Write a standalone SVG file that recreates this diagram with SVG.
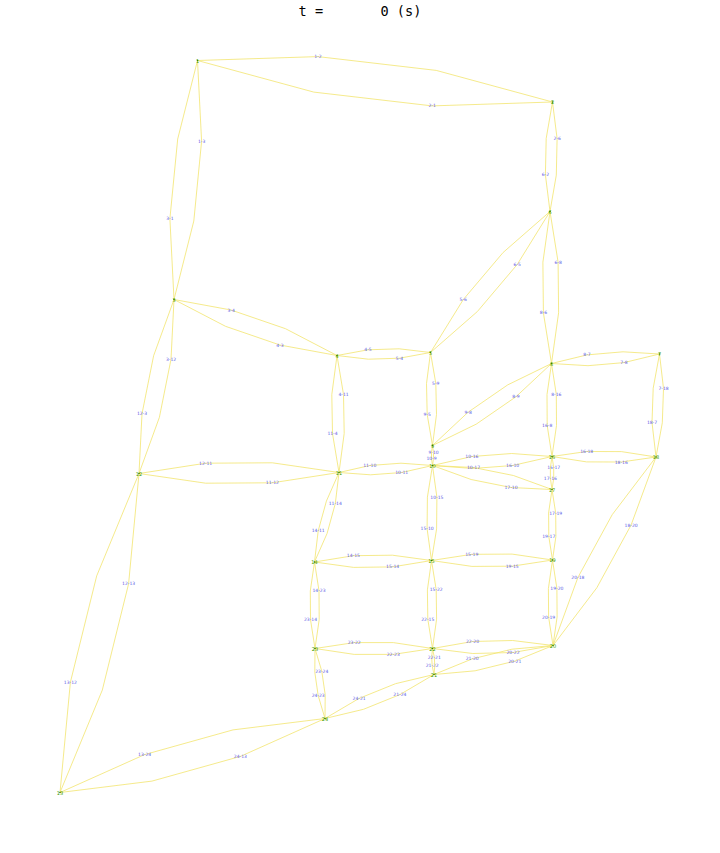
<svg xmlns="http://www.w3.org/2000/svg" width="720" height="853" viewBox="0 0 720 853">
<style>
.lk{fill:none;stroke:#f2e46e;stroke-width:0.8;stroke-linejoin:round}
.ll{font-family:"DejaVu Sans","Liberation Sans",sans-serif;font-size:4.5px;fill:#5a5ae6;text-anchor:middle;dominant-baseline:central}
.nd{font-family:"DejaVu Sans","Liberation Sans",sans-serif;font-size:5px;fill:#3c9c00;text-anchor:middle;dominant-baseline:central}
.dot{fill:#2e7d00}
.title{font-family:"DejaVu Sans Mono","Liberation Mono",monospace;font-size:13.6px;fill:#000;text-anchor:middle;white-space:pre}
</style>
<rect x="0" y="0" width="720" height="853" fill="#ffffff"/>
<text class="title" x="360" y="15.5" xml:space="preserve">t =       0 (s)</text>
<g id="connectors">
<g id="l1-2"><polyline class="lk" points="197.5,60.5 317.9,56.6 436.2,70.4 552.5,102"/><text class="ll" x="317.9" y="56.6">1-2</text></g>
<g id="l2-1"><polyline class="lk" points="552.5,102 432.1,105.9 313.8,92.1 197.5,60.5"/><text class="ll" x="432.1" y="105.9">2-1</text></g>
<g id="l1-3"><polyline class="lk" points="197.5,60.5 201.6,141.3 193.8,221.0 174,299.5"/><text class="ll" x="201.6" y="141.3">1-3</text></g>
<g id="l3-1"><polyline class="lk" points="174,299.5 169.9,218.7 177.7,139.0 197.5,60.5"/><text class="ll" x="169.9" y="218.7">3-1</text></g>
<g id="l2-6"><polyline class="lk" points="552.5,102 557.1,138.6 556.3,175.1 550,211.5"/><text class="ll" x="557.1" y="138.6">2-6</text></g>
<g id="l6-2"><polyline class="lk" points="550,211.5 545.4,174.9 546.2,138.4 552.5,102"/><text class="ll" x="545.4" y="174.9">6-2</text></g>
<g id="l3-4"><polyline class="lk" points="174,299.5 231.1,310.0 285.5,328.7 337,355.5"/><text class="ll" x="231.1" y="310.0">3-4</text></g>
<g id="l4-3"><polyline class="lk" points="337,355.5 279.9,345.0 225.5,326.3 174,299.5"/><text class="ll" x="279.9" y="345.0">4-3</text></g>
<g id="l3-12"><polyline class="lk" points="174,299.5 171.0,359.3 159.4,417.3 139,473.5"/><text class="ll" x="171.0" y="359.3">3-12</text></g>
<g id="l12-3"><polyline class="lk" points="139,473.5 142.0,413.8 153.6,355.8 174,299.5"/><text class="ll" x="142.0" y="413.8">12-3</text></g>
<g id="l4-5"><polyline class="lk" points="337,355.5 368.0,349.8 399.2,348.8 430.5,352.5"/><text class="ll" x="368.0" y="349.8">4-5</text></g>
<g id="l5-4"><polyline class="lk" points="430.5,352.5 399.5,358.2 368.3,359.2 337,355.5"/><text class="ll" x="399.5" y="358.2">5-4</text></g>
<g id="l4-11"><polyline class="lk" points="337,355.5 343.5,394.4 344.2,433.4 339,472.5"/><text class="ll" x="343.5" y="394.4">4-11</text></g>
<g id="l11-4"><polyline class="lk" points="339,472.5 332.5,433.6 331.8,394.6 337,355.5"/><text class="ll" x="332.5" y="433.6">11-4</text></g>
<g id="l5-6"><polyline class="lk" points="430.5,352.5 463.3,299.5 503.1,252.5 550,211.5"/><text class="ll" x="463.3" y="299.5">5-6</text></g>
<g id="l6-5"><polyline class="lk" points="550,211.5 517.2,264.5 477.4,311.5 430.5,352.5"/><text class="ll" x="517.2" y="264.5">6-5</text></g>
<g id="l5-9"><polyline class="lk" points="430.5,352.5 435.8,383.4 436.5,414.4 432.5,445.5"/><text class="ll" x="435.8" y="383.4">5-9</text></g>
<g id="l9-5"><polyline class="lk" points="432.5,445.5 427.2,414.6 426.5,383.6 430.5,352.5"/><text class="ll" x="427.2" y="414.6">9-5</text></g>
<g id="l6-8"><polyline class="lk" points="550,211.5 558.1,262.1 558.6,312.8 551.5,363.5"/><text class="ll" x="558.1" y="262.1">6-8</text></g>
<g id="l8-6"><polyline class="lk" points="551.5,363.5 543.4,312.9 542.9,262.2 550,211.5"/><text class="ll" x="543.4" y="312.9">8-6</text></g>
<g id="l7-8"><polyline class="lk" points="659.5,354 624.0,362.6 588.0,365.7 551.5,363.5"/><text class="ll" x="624.0" y="362.6">7-8</text></g>
<g id="l8-7"><polyline class="lk" points="551.5,363.5 587.0,354.9 623.0,351.8 659.5,354"/><text class="ll" x="587.0" y="354.9">8-7</text></g>
<g id="l7-18"><polyline class="lk" points="659.5,354 663.5,388.5 662.3,422.8 656,457"/><text class="ll" x="663.5" y="388.5">7-18</text></g>
<g id="l18-7"><polyline class="lk" points="656,457 652.0,422.5 653.2,388.2 659.5,354"/><text class="ll" x="652.0" y="422.5">18-7</text></g>
<g id="l8-9"><polyline class="lk" points="551.5,363.5 515.9,396.8 476.3,424.1 432.5,445.5"/><text class="ll" x="515.9" y="396.8">8-9</text></g>
<g id="l9-8"><polyline class="lk" points="432.5,445.5 468.1,412.2 507.7,384.9 551.5,363.5"/><text class="ll" x="468.1" y="412.2">9-8</text></g>
<g id="l8-16"><polyline class="lk" points="551.5,363.5 556.3,394.5 556.5,425.5 552,456.5"/><text class="ll" x="556.3" y="394.5">8-16</text></g>
<g id="l16-8"><polyline class="lk" points="552,456.5 547.2,425.5 547.0,394.5 551.5,363.5"/><text class="ll" x="547.2" y="425.5">16-8</text></g>
<g id="l9-10"><polyline class="lk" points="432.5,445.5 433.5,452.2 433.5,458.8 432.5,465.5"/><text class="ll" x="433.5" y="452.2">9-10</text></g>
<g id="l10-9"><polyline class="lk" points="432.5,465.5 431.5,458.8 431.5,452.2 432.5,445.5"/><text class="ll" x="431.5" y="458.8">10-9</text></g>
<g id="l10-11"><polyline class="lk" points="432.5,465.5 401.7,472.5 370.5,474.8 339,472.5"/><text class="ll" x="401.7" y="472.5">10-11</text></g>
<g id="l11-10"><polyline class="lk" points="339,472.5 369.8,465.5 401.0,463.2 432.5,465.5"/><text class="ll" x="369.8" y="465.5">11-10</text></g>
<g id="l10-15"><polyline class="lk" points="432.5,465.5 436.9,497.2 436.6,528.9 431.5,560.5"/><text class="ll" x="436.9" y="497.2">10-15</text></g>
<g id="l15-10"><polyline class="lk" points="431.5,560.5 427.1,528.8 427.4,497.1 432.5,465.5"/><text class="ll" x="427.1" y="528.8">15-10</text></g>
<g id="l10-16"><polyline class="lk" points="432.5,465.5 471.9,456.5 511.7,453.5 552,456.5"/><text class="ll" x="471.9" y="456.5">10-16</text></g>
<g id="l16-10"><polyline class="lk" points="552,456.5 512.6,465.5 472.8,468.5 432.5,465.5"/><text class="ll" x="512.6" y="465.5">16-10</text></g>
<g id="l10-17"><polyline class="lk" points="432.5,465.5 473.5,467.5 513.4,475.5 552,489.5"/><text class="ll" x="473.5" y="467.5">10-17</text></g>
<g id="l17-10"><polyline class="lk" points="552,489.5 511.0,487.5 471.1,479.5 432.5,465.5"/><text class="ll" x="511.0" y="487.5">17-10</text></g>
<g id="l11-12"><polyline class="lk" points="339,472.5 272.4,482.8 205.7,483.2 139,473.5"/><text class="ll" x="272.4" y="482.8">11-12</text></g>
<g id="l12-11"><polyline class="lk" points="139,473.5 205.6,463.2 272.3,462.8 339,472.5"/><text class="ll" x="205.6" y="463.2">12-11</text></g>
<g id="l11-14"><polyline class="lk" points="339,472.5 335.3,503.6 327.1,533.4 314.5,562"/><text class="ll" x="335.3" y="503.6">11-14</text></g>
<g id="l14-11"><polyline class="lk" points="314.5,562 318.2,530.9 326.4,501.1 339,472.5"/><text class="ll" x="318.2" y="530.9">14-11</text></g>
<g id="l12-13"><polyline class="lk" points="139,473.5 128.6,583.8 102.3,690.1 60,792.5"/><text class="ll" x="128.6" y="583.8">12-13</text></g>
<g id="l13-12"><polyline class="lk" points="60,792.5 70.4,682.2 96.7,575.9 139,473.5"/><text class="ll" x="70.4" y="682.2">13-12</text></g>
<g id="l13-24"><polyline class="lk" points="60,792.5 144.6,754.6 233.0,729.9 325,718.5"/><text class="ll" x="144.6" y="754.6">13-24</text></g>
<g id="l24-13"><polyline class="lk" points="325,718.5 240.4,756.4 152.0,781.1 60,792.5"/><text class="ll" x="240.4" y="756.4">24-13</text></g>
<g id="l14-15"><polyline class="lk" points="314.5,562 353.4,555.7 392.4,555.2 431.5,560.5"/><text class="ll" x="353.4" y="555.7">14-15</text></g>
<g id="l15-14"><polyline class="lk" points="431.5,560.5 392.6,566.9 353.6,567.4 314.5,562"/><text class="ll" x="392.6" y="566.9">15-14</text></g>
<g id="l14-23"><polyline class="lk" points="314.5,562 319.0,590.8 319.2,619.6 315,648.5"/><text class="ll" x="319.0" y="590.8">14-23</text></g>
<g id="l23-14"><polyline class="lk" points="315,648.5 310.5,619.7 310.3,590.9 314.5,562"/><text class="ll" x="310.5" y="619.7">23-14</text></g>
<g id="l15-19"><polyline class="lk" points="431.5,560.5 471.8,554.3 512.1,554.1 552.5,560"/><text class="ll" x="471.8" y="554.3">15-19</text></g>
<g id="l19-15"><polyline class="lk" points="552.5,560 512.2,566.2 471.9,566.4 431.5,560.5"/><text class="ll" x="512.2" y="566.2">19-15</text></g>
<g id="l15-22"><polyline class="lk" points="431.5,560.5 436.2,589.8 436.6,619.1 432.5,648.5"/><text class="ll" x="436.2" y="589.8">15-22</text></g>
<g id="l22-15"><polyline class="lk" points="432.5,648.5 427.8,619.2 427.4,589.9 431.5,560.5"/><text class="ll" x="427.8" y="619.2">22-15</text></g>
<g id="l16-17"><polyline class="lk" points="552,456.5 553.7,467.5 553.7,478.5 552,489.5"/><text class="ll" x="553.7" y="467.5">16-17</text></g>
<g id="l17-16"><polyline class="lk" points="552,489.5 550.4,478.5 550.4,467.5 552,456.5"/><text class="ll" x="550.4" y="478.5">17-16</text></g>
<g id="l16-18"><polyline class="lk" points="552,456.5 586.7,451.5 621.4,451.6 656,457"/><text class="ll" x="586.7" y="451.5">16-18</text></g>
<g id="l18-16"><polyline class="lk" points="656,457 621.3,462.0 586.6,461.9 552,456.5"/><text class="ll" x="621.3" y="462.0">18-16</text></g>
<g id="l17-19"><polyline class="lk" points="552,489.5 555.7,513.0 555.9,536.5 552.5,560"/><text class="ll" x="555.7" y="513.0">17-19</text></g>
<g id="l19-17"><polyline class="lk" points="552.5,560 548.8,536.5 548.6,513.0 552,489.5"/><text class="ll" x="548.8" y="536.5">19-17</text></g>
<g id="l18-20"><polyline class="lk" points="656,457 631.1,525.0 596.8,587.8 553,645.5"/><text class="ll" x="631.1" y="525.0">18-20</text></g>
<g id="l20-18"><polyline class="lk" points="553,645.5 577.9,577.5 612.2,514.7 656,457"/><text class="ll" x="577.9" y="577.5">20-18</text></g>
<g id="l19-20"><polyline class="lk" points="552.5,560 556.9,588.5 557.1,617.0 553,645.5"/><text class="ll" x="556.9" y="588.5">19-20</text></g>
<g id="l20-19"><polyline class="lk" points="553,645.5 548.6,617.0 548.4,588.5 552.5,560"/><text class="ll" x="548.6" y="617.0">20-19</text></g>
<g id="l20-21"><polyline class="lk" points="553,645.5 514.8,661.1 475.1,670.8 434,674.5"/><text class="ll" x="514.8" y="661.1">20-21</text></g>
<g id="l21-20"><polyline class="lk" points="434,674.5 472.2,658.9 511.9,649.2 553,645.5"/><text class="ll" x="472.2" y="658.9">21-20</text></g>
<g id="l20-22"><polyline class="lk" points="553,645.5 513.0,652.5 472.8,653.5 432.5,648.5"/><text class="ll" x="513.0" y="652.5">20-22</text></g>
<g id="l22-20"><polyline class="lk" points="432.5,648.5 472.5,641.5 512.7,640.5 553,645.5"/><text class="ll" x="472.5" y="641.5">22-20</text></g>
<g id="l21-22"><polyline class="lk" points="434,674.5 432.2,665.9 431.7,657.2 432.5,648.5"/><text class="ll" x="432.2" y="665.9">21-22</text></g>
<g id="l22-21"><polyline class="lk" points="432.5,648.5 434.3,657.1 434.8,665.8 434,674.5"/><text class="ll" x="434.3" y="657.1">22-21</text></g>
<g id="l21-24"><polyline class="lk" points="434,674.5 399.9,694.6 363.5,709.3 325,718.5"/><text class="ll" x="399.9" y="694.6">21-24</text></g>
<g id="l24-21"><polyline class="lk" points="325,718.5 359.1,698.4 395.5,683.7 434,674.5"/><text class="ll" x="359.1" y="698.4">24-21</text></g>
<g id="l22-23"><polyline class="lk" points="432.5,648.5 393.3,654.4 354.2,654.4 315,648.5"/><text class="ll" x="393.3" y="654.4">22-23</text></g>
<g id="l23-22"><polyline class="lk" points="315,648.5 354.2,642.6 393.3,642.6 432.5,648.5"/><text class="ll" x="354.2" y="642.6">23-22</text></g>
<g id="l23-24"><polyline class="lk" points="315,648.5 321.8,671.3 325.2,694.7 325,718.5"/><text class="ll" x="321.8" y="671.3">23-24</text></g>
<g id="l24-23"><polyline class="lk" points="325,718.5 318.2,695.7 314.8,672.3 315,648.5"/><text class="ll" x="318.2" y="695.7">24-23</text></g>
</g>
<g id="nodes">
<g id="n1"><circle class="dot" cx="197.5" cy="60.5" r="0.8"/><text class="nd" x="197.5" y="60.5">1</text></g>
<g id="n2"><circle class="dot" cx="552.5" cy="102" r="0.8"/><text class="nd" x="552.5" y="102">2</text></g>
<g id="n3"><circle class="dot" cx="174" cy="299.5" r="0.8"/><text class="nd" x="174" y="299.5">3</text></g>
<g id="n4"><circle class="dot" cx="337" cy="355.5" r="0.8"/><text class="nd" x="337" y="355.5">4</text></g>
<g id="n5"><circle class="dot" cx="430.5" cy="352.5" r="0.8"/><text class="nd" x="430.5" y="352.5">5</text></g>
<g id="n6"><circle class="dot" cx="550" cy="211.5" r="0.8"/><text class="nd" x="550" y="211.5">6</text></g>
<g id="n7"><circle class="dot" cx="659.5" cy="354" r="0.8"/><text class="nd" x="659.5" y="354">7</text></g>
<g id="n8"><circle class="dot" cx="551.5" cy="363.5" r="0.8"/><text class="nd" x="551.5" y="363.5">8</text></g>
<g id="n9"><circle class="dot" cx="432.5" cy="445.5" r="0.8"/><text class="nd" x="432.5" y="445.5">9</text></g>
<g id="n10"><circle class="dot" cx="432.5" cy="465.5" r="0.8"/><text class="nd" x="432.5" y="465.5">10</text></g>
<g id="n11"><circle class="dot" cx="339" cy="472.5" r="0.8"/><text class="nd" x="339" y="472.5">11</text></g>
<g id="n12"><circle class="dot" cx="139" cy="473.5" r="0.8"/><text class="nd" x="139" y="473.5">12</text></g>
<g id="n13"><circle class="dot" cx="60" cy="792.5" r="0.8"/><text class="nd" x="60" y="792.5">13</text></g>
<g id="n14"><circle class="dot" cx="314.5" cy="562" r="0.8"/><text class="nd" x="314.5" y="562">14</text></g>
<g id="n15"><circle class="dot" cx="431.5" cy="560.5" r="0.8"/><text class="nd" x="431.5" y="560.5">15</text></g>
<g id="n16"><circle class="dot" cx="552" cy="456.5" r="0.8"/><text class="nd" x="552" y="456.5">16</text></g>
<g id="n17"><circle class="dot" cx="552" cy="489.5" r="0.8"/><text class="nd" x="552" y="489.5">17</text></g>
<g id="n18"><circle class="dot" cx="656" cy="457" r="0.8"/><text class="nd" x="656" y="457">18</text></g>
<g id="n19"><circle class="dot" cx="552.5" cy="560" r="0.8"/><text class="nd" x="552.5" y="560">19</text></g>
<g id="n20"><circle class="dot" cx="553" cy="645.5" r="0.8"/><text class="nd" x="553" y="645.5">20</text></g>
<g id="n21"><circle class="dot" cx="434" cy="674.5" r="0.8"/><text class="nd" x="434" y="674.5">21</text></g>
<g id="n22"><circle class="dot" cx="432.5" cy="648.5" r="0.8"/><text class="nd" x="432.5" y="648.5">22</text></g>
<g id="n23"><circle class="dot" cx="315" cy="648.5" r="0.8"/><text class="nd" x="315" y="648.5">23</text></g>
<g id="n24"><circle class="dot" cx="325" cy="718.5" r="0.8"/><text class="nd" x="325" y="718.5">24</text></g>
</g>
</svg>
